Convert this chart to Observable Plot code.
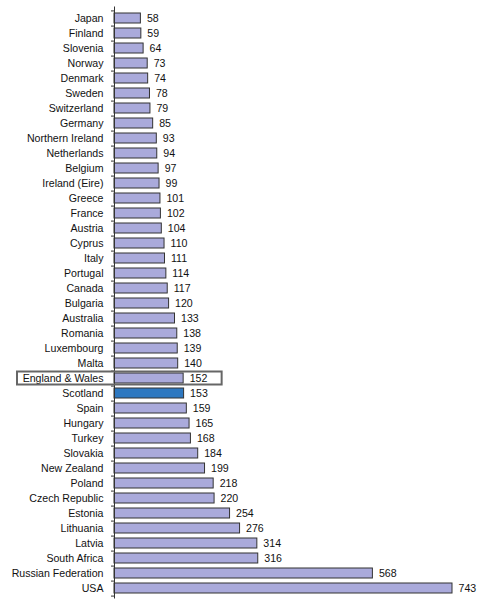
<!DOCTYPE html>
<html>
<head>
<meta charset="utf-8">
<script src="https://cdn.jsdelivr.net/npm/d3@7"></script>
<script src="https://cdn.jsdelivr.net/npm/@observablehq/plot@0.6"></script>
<style>
  html, body { margin: 0; padding: 0; background: #fff; }
  #chart svg { display: block; }
</style>
</head>
<body>
<div id="chart"></div>
<script>
const countries = ["Japan","Finland","Slovenia","Norway","Denmark","Sweden","Switzerland","Germany","Northern Ireland","Netherlands","Belgium","Ireland (Eire)","Greece","France","Austria","Cyprus","Italy","Portugal","Canada","Bulgaria","Australia","Romania","Luxembourg","Malta","England & Wales","Scotland","Spain","Hungary","Turkey","Slovakia","New Zealand","Poland","Czech Republic","Estonia","Lithuania","Latvia","South Africa","Russian Federation","USA"];
const values = [58,59,64,73,74,78,79,85,93,94,97,99,101,102,104,110,111,114,117,120,133,138,139,140,152,153,159,165,168,184,199,218,220,254,276,314,316,568,743];
const highlightBar = "Scotland";
const boxedRow = "England & Wales";

const data = countries.map((c, i) => ({country: c, value: values[i]}));

const width = 500, height = 602;
const marginTop = 6.5, marginBottom = 3.5, marginLeft = 114, marginRight = 48;
const step = (height - marginTop - marginBottom) / countries.length;
const fs = 10.6;

const chart = Plot.plot({
  width, height, marginTop, marginBottom, marginLeft, marginRight,
  style: {fontFamily: "Liberation Sans, Arial, sans-serif", fontSize: fs + "px", color: "#111"},
  x: {domain: [0, d3.max(values)], axis: null},
  y: {domain: countries, padding: 0.34, axis: null, label: null},
  marks: [
    Plot.axisY({tickSize: 0, tickPadding: 11, fontSize: fs, fill: "#111", label: null}),
    Plot.axisY({tickSize: 3, tickFormat: () => "", dy: step / 2, stroke: "#333", label: null}),
    Plot.axisY({ticks: [countries[0]], tickSize: 3, tickFormat: () => "", dy: -step / 2, stroke: "#333", label: null}),
    Plot.barX(data, {
      x: "value", y: "country",
      fill: d => d.country === highlightBar ? "#2e78c0" : "#aaaadb",
      stroke: "#333", strokeWidth: 1
    }),
    Plot.ruleX([0], {stroke: "#333", strokeWidth: 1}),
    Plot.text(data, {x: "value", y: "country", text: d => String(d.value), dx: 6, textAnchor: "start", fill: "#111", fontSize: fs}),
    Plot.barX(data.filter(d => d.country === boxedRow), {
      x1: 0, x2: "value", y: "country",
      fill: "none", stroke: "#666", strokeWidth: 2,
      insetLeft: -97, insetRight: -38.5, insetTop: -1.5, insetBottom: -1.5
    })
  ]
});
document.getElementById("chart").appendChild(chart);
</script>
</body>
</html>
